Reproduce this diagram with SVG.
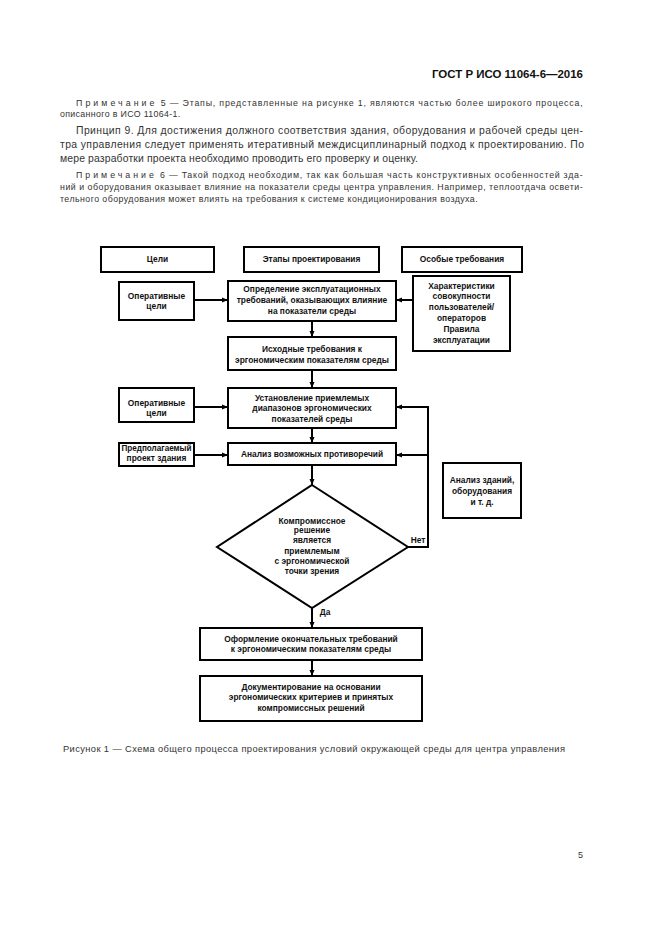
<svg xmlns="http://www.w3.org/2000/svg" width="661" height="936" viewBox="0 0 661 936">
<defs>
<marker id="ah" viewBox="0 0 6 6" refX="6" refY="3" markerWidth="6" markerHeight="6" markerUnits="userSpaceOnUse" orient="auto">
<path d="M0,0.5 L6,3 L0,5.5 Z" fill="#000"/>
</marker>
<style>
.pg{font-family:"Liberation Sans",Arial,sans-serif;fill:#333}
.note{font-size:8.8px;letter-spacing:0.35px}
.prin{font-size:10.4px}
.hdr{font-family:"Liberation Sans",Arial,sans-serif;font-size:11.5px;font-weight:bold;fill:#111}
.box{fill:#fff;stroke:#000;stroke-width:2}
.t{font-family:"Liberation Sans",Arial,sans-serif;font-size:8.4px;font-weight:bold;fill:#111;text-anchor:middle}
.c{fill:none;stroke:#000;stroke-width:2;marker-end:url(#ah)}
</style>
</defs>
<rect width="661" height="936" fill="#fff"/>
<text class="hdr" x="432" y="78" textLength="151" lengthAdjust="spacingAndGlyphs">ГОСТ Р ИСО 11064-6—2016</text>
<g class="pg">
<text class="note" x="76" y="106" textLength="507" lengthAdjust="spacing"><tspan letter-spacing="2.6">Примечание</tspan> 5 — Этапы, представленные на рисунке 1, являются частью более широкого процесса,</text>
<text class="note" x="60" y="117">описанного в ИСО 11064-1.</text>
<text class="prin" x="76" y="134" textLength="507" lengthAdjust="spacing">Принцип  9.  Для достижения должного соответствия здания, оборудования и рабочей среды цен-</text>
<text class="prin" x="60" y="148" textLength="524" lengthAdjust="spacing">тра управления следует применять итеративный междисциплинарный подход к проектированию. По</text>
<text class="prin" x="60" y="162" textLength="358" lengthAdjust="spacing">мере разработки проекта необходимо проводить его проверку и оценку.</text>
<text class="note" x="76" y="178" textLength="507" lengthAdjust="spacing"><tspan letter-spacing="2.6">Примечание</tspan> 6 — Такой подход необходим, так как большая часть конструктивных особенностей зда-</text>
<text class="note" x="60" y="190" textLength="523" lengthAdjust="spacing">ний и оборудования оказывает влияние на показатели среды центра управления. Например, теплоотдача освети-</text>
<text class="note" x="60" y="202" textLength="418" lengthAdjust="spacing">тельного оборудования может влиять на требования к системе кондиционирования воздуха.</text>
</g>
<g id="hdr-goals"><rect class="box" x="101" y="247" width="113" height="25"/><text class="t" x="157.5" y="262">Цели</text></g>
<g id="hdr-stages"><rect class="box" x="244" y="247" width="135" height="25"/><text class="t" x="311.5" y="262">Этапы проектирования</text></g>
<g id="hdr-special"><rect class="box" x="402" y="247" width="120" height="25"/><text class="t" x="462" y="262">Особые требования</text></g>
<g id="goals1"><rect class="box" x="119" y="282" width="75" height="38"/><text class="t" x="156.5" y="299">Оперативные</text><text class="t" x="156.5" y="309">цели</text></g>
<g id="step1"><rect class="box" x="228" y="281" width="168" height="40"/><text class="t" x="312" y="292">Определение эксплуатационных</text><text class="t" x="312" y="303">требований, оказывающих влияние</text><text class="t" x="312" y="314">на показатели среды</text></g>
<g id="users"><rect class="box" x="413" y="276" width="97" height="75"/><text class="t" x="461.5" y="289">Характеристики</text><text class="t" x="461.5" y="299">совокупности</text><text class="t" x="461.5" y="310">пользователей/</text><text class="t" x="461.5" y="321">операторов</text><text class="t" x="461.5" y="332">Правила</text><text class="t" x="461.5" y="343">эксплуатации</text></g>
<g id="step2"><rect class="box" x="228" y="337" width="168" height="33"/><text class="t" x="312" y="352">Исходные требования к</text><text class="t" x="312" y="363">эргономическим показателям среды</text></g>
<g id="goals2"><rect class="box" x="119" y="388" width="75" height="34"/><text class="t" x="156.5" y="406">Оперативные</text><text class="t" x="156.5" y="416">цели</text></g>
<g id="step3"><rect class="box" x="228" y="388" width="168" height="40"/><text class="t" x="312" y="401">Установление приемлемых</text><text class="t" x="312" y="411">диапазонов эргономических</text><text class="t" x="312" y="422">показателей среды</text></g>
<g id="project"><rect class="box" x="119" y="443" width="75" height="23"/><text class="t" x="156.5" y="451" textLength="70" lengthAdjust="spacingAndGlyphs">Предполагаемый</text><text class="t" x="156.5" y="461">проект здания</text></g>
<g id="step4"><rect class="box" x="228" y="443" width="168" height="22"/><text class="t" x="312" y="457">Анализ возможных противоречий</text></g>
<g id="analysis"><rect class="box" x="443" y="463" width="78" height="55"/><text class="t" x="482" y="483">Анализ зданий,</text><text class="t" x="482" y="494">оборудования</text><text class="t" x="482" y="505">и т. д.</text></g>
<g id="decision"><polygon class="box" points="312,485 408,547 312,608 217,547"/><text class="t" x="312" y="524">Компромиссное</text><text class="t" x="312" y="533">решение</text><text class="t" x="312" y="543">является</text><text class="t" x="312" y="554">приемлемым</text><text class="t" x="312" y="564">с эргономической</text><text class="t" x="312" y="574">точки зрения</text></g>
<g id="step5"><rect class="box" x="200" y="628" width="222" height="32"/><text class="t" x="311" y="642">Оформление окончательных требований</text><text class="t" x="311" y="652">к эргономическим показателям среды</text></g>
<g id="step6"><rect class="box" x="200" y="676" width="222" height="45"/><text class="t" x="311" y="690">Документирование на основании</text><text class="t" x="311" y="700">эргономических критериев и принятых</text><text class="t" x="311" y="711">компромиссных решений</text></g>
<g id="connectors">
<path class="c" d="M194,300 H228"/>
<path class="c" d="M413,300 H396"/>
<path class="c" d="M312,321 V337"/>
<path class="c" d="M312,370 V388"/>
<path class="c" d="M194,407 H228"/>
<path class="c" d="M312,428 V443"/>
<path class="c" d="M194,455 H228"/>
<path class="c" d="M312,465 V485"/>
<path class="c" d="M408,547 H428 V407 H396"/>
<path class="c" d="M428,455 H396"/>
<path class="c" d="M312,608 V628"/>
<path class="c" d="M312,660 V676"/>
<text class="t" x="418" y="543">Нет</text>
<text class="t" x="325" y="615">Да</text>
</g>
<text class="pg" x="63" y="752" font-size="9.3" textLength="502" lengthAdjust="spacing">Рисунок  1 — Схема общего процесса проектирования условий окружающей среды для центра управления</text>
<text class="pg" x="578" y="858" font-size="9">5</text>
</svg>
